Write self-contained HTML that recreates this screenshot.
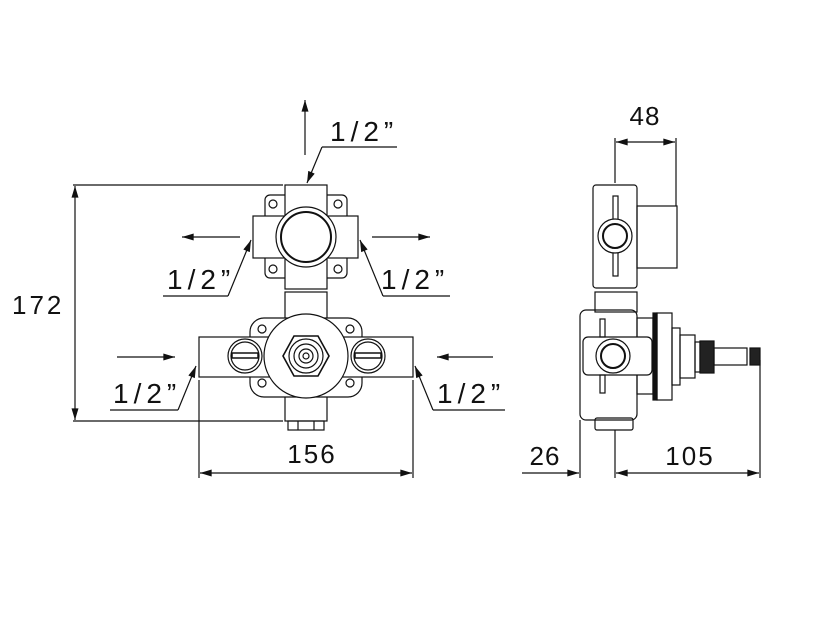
<!DOCTYPE html>
<html><head><meta charset="utf-8"><style>html,body{margin:0;background:#fff}svg{display:block}</style></head>
<body>
<svg width="835" height="633" viewBox="0 0 835 633" xmlns="http://www.w3.org/2000/svg">
<defs>
<marker id="a" viewBox="0 0 10 6" refX="10" refY="3" markerWidth="16" markerHeight="7" markerUnits="userSpaceOnUse" orient="auto"><path d="M0,0L10,3L0,6z" fill="#111"/></marker>
</defs>
<g fill="none" stroke="#111" stroke-width="1.2">
<line x1="73" y1="185" x2="283" y2="185"/><line x1="73" y1="421" x2="283" y2="421"/>
<line x1="75" y1="300" x2="75" y2="186" marker-end="url(#a)"/><line x1="75" y1="300" x2="75" y2="420" marker-end="url(#a)"/>
<line x1="199" y1="380" x2="199" y2="478"/><line x1="413" y1="380" x2="413" y2="478"/>
<line x1="306" y1="473" x2="200" y2="473" marker-end="url(#a)"/><line x1="306" y1="473" x2="412" y2="473" marker-end="url(#a)"/>
<line x1="305" y1="155" x2="305" y2="100" marker-end="url(#a)"/>
<line x1="240" y1="237" x2="182" y2="237" marker-end="url(#a)"/>
<line x1="372" y1="237" x2="430" y2="237" marker-end="url(#a)"/>
<line x1="117" y1="357" x2="175" y2="357" marker-end="url(#a)"/>
<line x1="493" y1="357" x2="437" y2="357" marker-end="url(#a)"/>
<polyline points="397,147 322,147"/><line x1="322" y1="147" x2="307" y2="183" marker-end="url(#a)"/>
<polyline points="163,296 228,296"/><line x1="228" y1="296" x2="251" y2="240" marker-end="url(#a)"/>
<polyline points="450,296 383,296"/><line x1="383" y1="296" x2="360" y2="240" marker-end="url(#a)"/>
<polyline points="110,410 178,410"/><line x1="178" y1="410" x2="196" y2="366" marker-end="url(#a)"/>
<polyline points="505,410 433,410"/><line x1="433" y1="410" x2="415" y2="366" marker-end="url(#a)"/>

<rect x="265" y="195" width="82" height="83" rx="5"/>
<rect x="285" y="185" width="42" height="104" fill="#fff"/>
<rect x="253" y="216" width="105" height="42" fill="#fff"/>
<circle cx="306" cy="237" r="30" fill="#fff"/><circle cx="306" cy="237" r="25" stroke-width="2"/>
<circle cx="273" cy="204" r="4"/><circle cx="338" cy="204" r="4"/><circle cx="273" cy="269" r="4"/><circle cx="338" cy="269" r="4"/>
<rect x="285" y="292" width="42" height="30"/>
<rect x="285" y="390" width="42" height="31"/>
<rect x="288" y="421" width="36" height="9"/><line x1="298" y1="421" x2="298" y2="430"/><line x1="314" y1="421" x2="314" y2="430"/>
<rect x="250" y="318" width="112" height="79" rx="14" fill="#fff"/>
<rect x="199" y="337" width="214" height="40" fill="#fff"/>
<circle cx="262" cy="329" r="4"/><circle cx="350" cy="329" r="4"/><circle cx="262" cy="383" r="4"/><circle cx="350" cy="383" r="4"/>
<circle cx="245" cy="356" r="17" fill="#fff"/><circle cx="245" cy="356" r="14"/><rect x="232" y="353" width="26" height="5" stroke-width="1.5"/>
<circle cx="368" cy="356" r="17" fill="#fff"/><circle cx="368" cy="356" r="14"/><rect x="355" y="353" width="26" height="5" stroke-width="1.5"/>
<circle cx="306" cy="356" r="42" fill="#fff"/>
<polygon points="294,336 318,336 329,356 318,376 294,376 283,356" stroke-width="1.6"/>
<circle cx="306" cy="356" r="17"/><circle cx="306" cy="356" r="12"/><circle cx="306" cy="356" r="7"/><circle cx="306" cy="356" r="3"/>

<line x1="615" y1="138" x2="615" y2="183"/><line x1="676" y1="138" x2="676" y2="206"/>
<line x1="645" y1="142" x2="616" y2="142" marker-end="url(#a)"/><line x1="645" y1="142" x2="675" y2="142" marker-end="url(#a)"/>
<line x1="580" y1="420" x2="580" y2="478"/><line x1="615" y1="430" x2="615" y2="478"/><line x1="760" y1="360" x2="760" y2="478"/>
<line x1="522" y1="473" x2="579" y2="473" marker-end="url(#a)"/>
<line x1="688" y1="473" x2="616" y2="473" marker-end="url(#a)"/><line x1="688" y1="473" x2="759" y2="473" marker-end="url(#a)"/>
<rect x="593" y="185" width="44" height="103" rx="3"/>
<rect x="637" y="206" width="40" height="62"/>
<rect x="613" y="196" width="5" height="80"/>
<circle cx="615" cy="236" r="17" fill="#fff"/><circle cx="615" cy="236" r="12" stroke-width="2"/>
<rect x="595" y="292" width="42" height="20"/>
<rect x="580" y="310" width="57" height="110" rx="6"/>
<rect x="595" y="418" width="38" height="12" rx="2"/>
<rect x="637" y="318" width="16" height="76"/>
<rect x="653" y="313" width="4" height="87" fill="#111"/>
<rect x="657" y="313" width="15" height="87"/>
<rect x="672" y="328" width="8" height="57"/>
<rect x="680" y="335" width="15" height="43"/>
<rect x="695" y="342" width="5" height="30"/>
<rect x="700" y="341" width="14" height="32" fill="#222"/>
<rect x="714" y="348" width="33" height="17"/>
<rect x="750" y="348" width="10" height="17" fill="#222"/>
<rect x="583" y="337" width="69" height="38" rx="5" fill="#fff"/>
<rect x="600" y="319" width="5" height="18"/><rect x="600" y="375" width="5" height="18"/>
<circle cx="613" cy="356" r="17" fill="#fff"/><circle cx="613" cy="356" r="12" stroke-width="2"/>
</g>
<g font-family="Liberation Sans, sans-serif" font-size="26" fill="#111">
<text x="12" y="314" letter-spacing="3">172</text>
<text x="312" y="463" text-anchor="middle" letter-spacing="2">156</text>
<text x="645" y="125" text-anchor="middle" letter-spacing="1">48</text>
<text x="545" y="465" text-anchor="middle" letter-spacing="1">26</text>
<text x="690" y="465" text-anchor="middle" letter-spacing="2">105</text>
</g>
<g font-family="Liberation Sans, sans-serif" font-size="28" fill="#111" letter-spacing="5">
<text x="330" y="141">1/2”</text>
<text x="167" y="289">1/2”</text>
<text x="381" y="289">1/2”</text>
<text x="113" y="403">1/2”</text>
<text x="437" y="403">1/2”</text>
</g>
</svg>
</body></html>
